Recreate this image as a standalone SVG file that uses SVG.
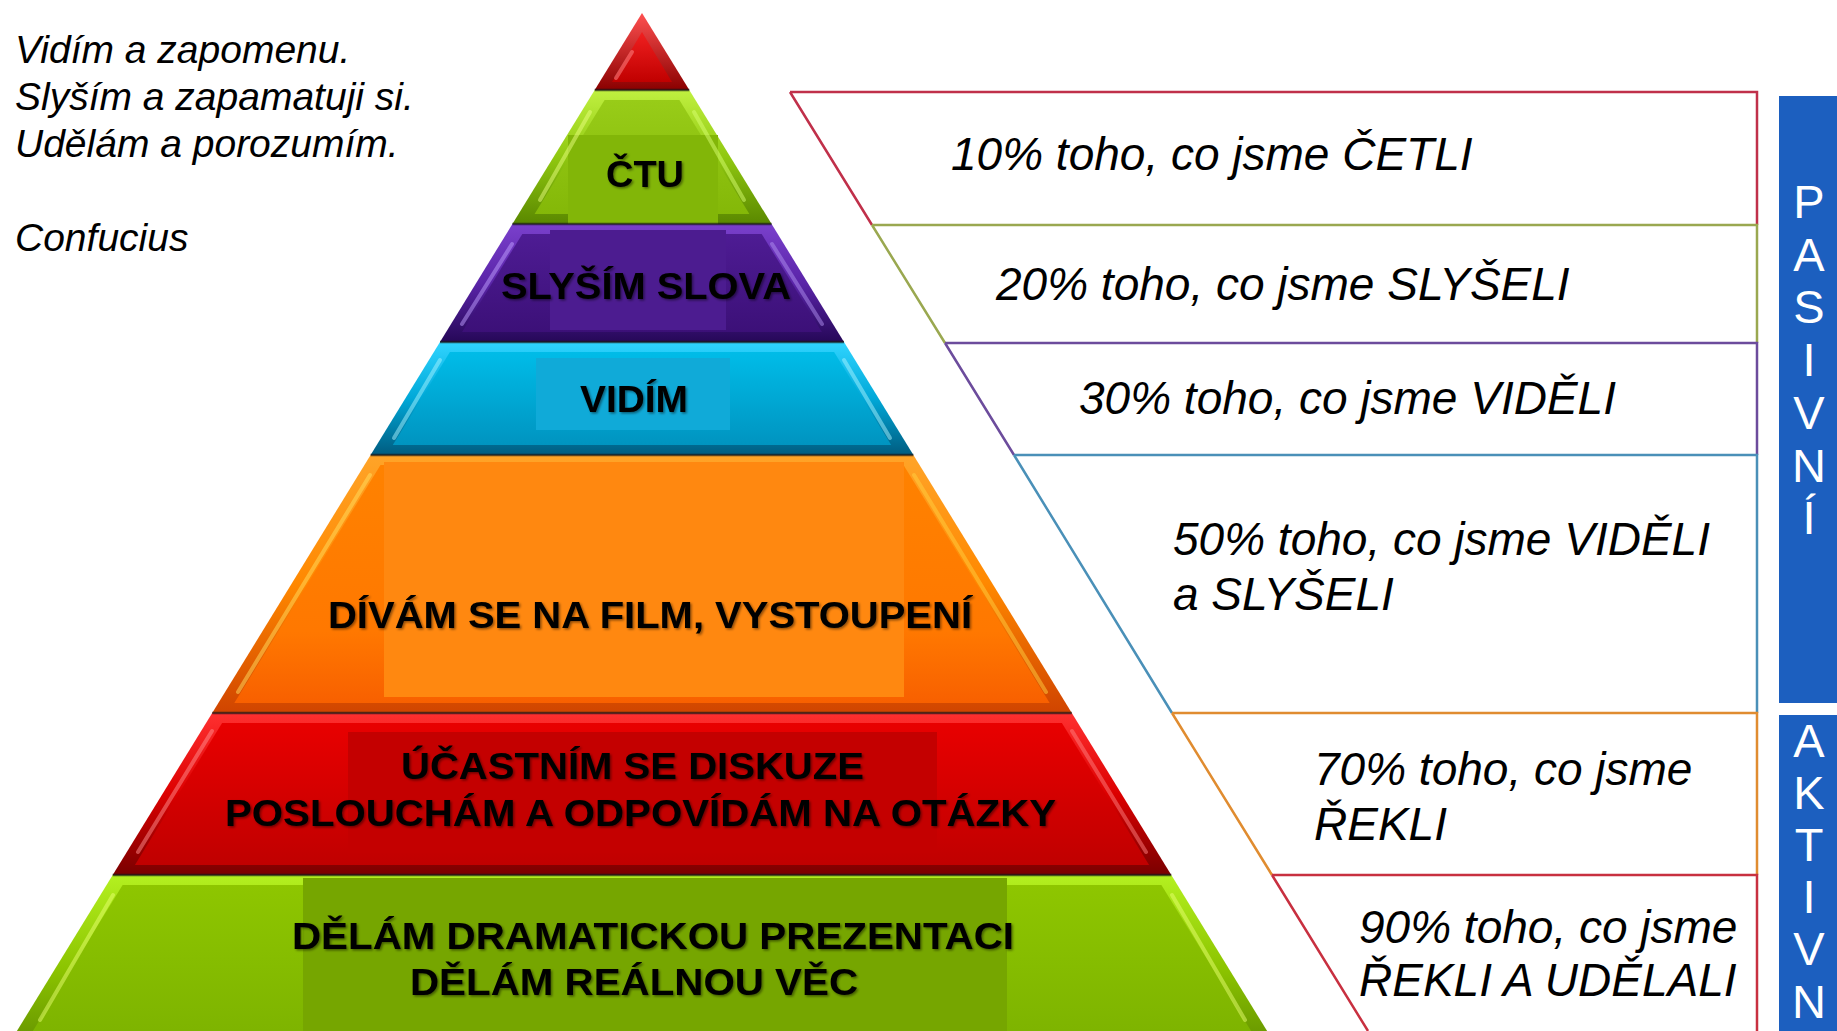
<svg xmlns="http://www.w3.org/2000/svg" width="1837" height="1031" viewBox="0 0 1837 1031">
<defs>
<style>
.quote{font-family:"Liberation Sans",Arial,sans-serif;font-style:italic;font-size:39px;fill:#000}
.lbl{font-family:"Liberation Sans",Arial,sans-serif;font-weight:bold;font-size:37px;fill:#000;filter:url(#tsh)}
.pct{font-family:"Liberation Sans",Arial,sans-serif;font-style:italic;font-size:46px;fill:#000}
.side{font-family:"Liberation Sans",Arial,sans-serif;font-size:47px;fill:#fff;text-anchor:middle}
.hl{fill:none;stroke-width:4;stroke-linecap:round;opacity:.5}
.sep{stroke:#1a1a1a;stroke-width:2.4;opacity:.7}
.row{fill:none;stroke-width:2.5}
.bar{fill:#1c5fbf}
</style>
<filter id="tsh" x="-10%" y="-30%" width="120%" height="160%">
<feDropShadow dx="1.5" dy="1.5" stdDeviation="1.2" flood-color="#000" flood-opacity=".45"/>
</filter>
<linearGradient id="eTip" x1="0" y1="0" x2="0" y2="1"><stop offset="0" stop-color="#ff5050"/><stop offset="1" stop-color="#8a0000"/></linearGradient>
<linearGradient id="fTip" x1="0" y1="0" x2="0" y2="1"><stop offset="0" stop-color="#f02020"/><stop offset="1" stop-color="#c00000"/></linearGradient>
<linearGradient id="e1" x1="0" y1="0" x2="0" y2="1"><stop offset="0" stop-color="#c0f040"/><stop offset=".5" stop-color="#90c810"/><stop offset="1" stop-color="#5a8800"/></linearGradient>
<linearGradient id="f1" x1="0" y1="0" x2="0" y2="1"><stop offset="0" stop-color="#98cc18"/><stop offset="1" stop-color="#84b808"/></linearGradient>
<linearGradient id="e2" x1="0" y1="0" x2="0" y2="1"><stop offset="0" stop-color="#7a40cc"/><stop offset=".5" stop-color="#5a24a8"/><stop offset="1" stop-color="#260858"/></linearGradient>
<linearGradient id="f2" x1="0" y1="0" x2="0" y2="1"><stop offset="0" stop-color="#4e1c94"/><stop offset="1" stop-color="#3c1078"/></linearGradient>
<linearGradient id="e3" x1="0" y1="0" x2="0" y2="1"><stop offset="0" stop-color="#30d4ff"/><stop offset=".5" stop-color="#00a8d8"/><stop offset="1" stop-color="#005c80"/></linearGradient>
<linearGradient id="f3" x1="0" y1="0" x2="0" y2="1"><stop offset="0" stop-color="#00bce8"/><stop offset="1" stop-color="#0094c0"/></linearGradient>
<linearGradient id="e4" x1="0" y1="0" x2="0" y2="1"><stop offset="0" stop-color="#ffa428"/><stop offset=".5" stop-color="#ff8800"/><stop offset="1" stop-color="#d04400"/></linearGradient>
<linearGradient id="f4" x1="0" y1="0" x2="0" y2="1"><stop offset="0" stop-color="#ff8200"/><stop offset=".7" stop-color="#ff7800"/><stop offset="1" stop-color="#f86000"/></linearGradient>
<linearGradient id="e5" x1="0" y1="0" x2="0" y2="1"><stop offset="0" stop-color="#ff3030"/><stop offset=".5" stop-color="#dc0000"/><stop offset="1" stop-color="#7a0000"/></linearGradient>
<linearGradient id="f5" x1="0" y1="0" x2="0" y2="1"><stop offset="0" stop-color="#e80000"/><stop offset="1" stop-color="#c00000"/></linearGradient>
<linearGradient id="e6" x1="0" y1="0" x2="0" y2="1"><stop offset="0" stop-color="#b4f020"/><stop offset=".6" stop-color="#8cc400"/><stop offset="1" stop-color="#6c9c00"/></linearGradient>
<linearGradient id="f6" x1="0" y1="0" x2="0" y2="1"><stop offset="0" stop-color="#8ec600"/><stop offset="1" stop-color="#7eb400"/></linearGradient>
</defs>
<rect width="1837" height="1031" fill="#fff"/>

<g id="quote">
<text class="quote" x="15" y="63">Vidím a zapomenu.</text>
<text class="quote" x="15" y="110">Slyším a zapamatuji si.</text>
<text class="quote" x="15" y="157">Udělám a porozumím.</text>
<text class="quote" x="15" y="251">Confucius</text>
</g>

<g id="pyramid">
<g id="level-tip">
<polygon points="642,13 689.3,90 594.7,90" fill="url(#eTip)"/>
<polygon points="642,32 672,82 612,82" fill="url(#fTip)"/>
<line class="hl" x1="632" y1="52" x2="616" y2="78" stroke="#ff9090"/>
</g>
<g id="level-ctu">
<polygon points="594.7,90 689.3,90 771.6,224 512.4,224" fill="url(#e1)"/>
<polygon points="604.6,100 679.4,100 749.4,214 534.6,214" fill="url(#f1)"/>
<rect x="568" y="135" width="150" height="89" fill="#82b608"/>
<line class="hl" x1="590" y1="112" x2="540" y2="200" stroke="#eaff80"/>
<line class="hl" x1="694" y1="112" x2="744" y2="200" stroke="#d8ff70" opacity=".35"/>
<text class="lbl" x="606" y="187" textLength="78" lengthAdjust="spacingAndGlyphs">ČTU</text>
</g>
<g id="level-slysim">
<polygon points="512.4,224 771.6,224 844,342 440,342" fill="url(#e2)"/>
<polygon points="522.3,234 761.7,234 821.9,332 462.1,332" fill="url(#f2)"/>
<rect x="550" y="230" width="176" height="100" fill="#4c1c90"/>
<line class="hl" x1="512" y1="244" x2="462" y2="324" stroke="#c0a0ff"/>
<line class="hl" x1="772" y1="244" x2="822" y2="324" stroke="#b090f0" opacity=".3"/>
<text class="lbl" x="501" y="299" textLength="290" lengthAdjust="spacingAndGlyphs">SLYŠÍM SLOVA</text>
</g>
<g id="level-vidim">
<polygon points="440,342 844,342 913.4,455 370.6,455" fill="url(#e3)"/>
<polygon points="449.9,352 834.1,352 891.2,445 392.8,445" fill="url(#f3)"/>
<rect x="536" y="358" width="194" height="72" fill="#10aad8"/>
<line class="hl" x1="440" y1="360" x2="394" y2="438" stroke="#a8f4ff"/>
<line class="hl" x1="844" y1="360" x2="890" y2="438" stroke="#a8f4ff" opacity=".35"/>
<text class="lbl" x="580" y="412" textLength="108" lengthAdjust="spacingAndGlyphs">VIDÍM</text>
</g>
<g id="level-divam">
<polygon points="370.6,455 913.4,455 1071.8,713 212.2,713" fill="url(#e4)"/>
<polygon points="380.5,465 903.5,465 1049.7,703 234.3,703" fill="url(#f4)"/>
<rect x="384" y="462" width="520" height="235" fill="#ff8810"/>
<line class="hl" x1="370" y1="475" x2="238" y2="692" stroke="#ffe060"/>
<line class="hl" x1="914" y1="475" x2="1046" y2="692" stroke="#ffd040" opacity=".4"/>
<text class="lbl" x="328" y="628" textLength="644" lengthAdjust="spacingAndGlyphs">DÍVÁM SE NA FILM, VYSTOUPENÍ</text>
</g>
<g id="level-diskuze">
<polygon points="212.2,713 1071.8,713 1171.3,875 112.7,875" fill="url(#e5)"/>
<polygon points="222.1,723 1061.9,723 1149.1,865 134.9,865" fill="url(#f5)"/>
<rect x="348" y="732" width="589" height="121" fill="#c40000"/>
<line class="hl" x1="212" y1="731" x2="138" y2="852" stroke="#ff9090"/>
<line class="hl" x1="1072" y1="731" x2="1146" y2="852" stroke="#ff8080" opacity=".3"/>
<text class="lbl" x="401" y="779" textLength="463" lengthAdjust="spacingAndGlyphs">ÚČASTNÍM SE DISKUZE</text>
<text class="lbl" x="225" y="826" textLength="831" lengthAdjust="spacingAndGlyphs">POSLOUCHÁM A ODPOVÍDÁM NA OTÁZKY</text>
</g>
<g id="level-delam">
<polygon points="112.7,875 1171.3,875 1267.1,1031 16.9,1031" fill="url(#e6)"/>
<polygon points="122.6,885 1161.4,885 1251.1,1031 32.9,1031" fill="url(#f6)"/>
<rect x="303" y="878" width="704" height="153" fill="#76a600"/>
<line class="hl" x1="113" y1="895" x2="40" y2="1020" stroke="#e8ff70"/>
<line class="hl" x1="1172" y1="895" x2="1245" y2="1020" stroke="#e8ff70" opacity=".5"/>
<text class="lbl" x="292" y="949" textLength="722" lengthAdjust="spacingAndGlyphs">DĚLÁM DRAMATICKOU PREZENTACI</text>
<text class="lbl" x="410" y="995" textLength="448" lengthAdjust="spacingAndGlyphs">DĚLÁM REÁLNOU VĚC</text>
</g>
<g id="separators">
<line class="sep" x1="594.7" y1="90" x2="689.3" y2="90"/>
<line class="sep" x1="512.4" y1="224" x2="771.6" y2="224"/>
<line class="sep" x1="440" y1="342" x2="844" y2="342"/>
<line class="sep" x1="370.6" y1="455" x2="913.4" y2="455"/>
<line class="sep" x1="212.2" y1="713" x2="1071.8" y2="713"/>
<line class="sep" x1="112.7" y1="875" x2="1171.3" y2="875"/>
</g>
</g>

<g id="connectors">
<path class="row" stroke="#c0304a" d="M790,92 H1757 V225 M790,92 L872,225"/>
<path class="row" stroke="#9aa850" d="M872,225 H1757 V343 M872,225 L945,343"/>
<path class="row" stroke="#6c4c9c" d="M945,343 H1757 V455 M945,343 L1014,455"/>
<path class="row" stroke="#4a90b8" d="M1014,455 H1757 V713 M1014,455 L1172,713"/>
<path class="row" stroke="#e08c30" d="M1172,713 H1757 V875 M1172,713 L1272,875"/>
<path class="row" stroke="#c83040" d="M1272,875 H1757 V1031 M1272,875 L1368,1031"/>
</g>

<g id="row-10"><text class="pct" x="951" y="170">10% toho, co jsme ČETLI</text></g>
<g id="row-20"><text class="pct" x="996" y="300">20% toho, co jsme SLYŠELI</text></g>
<g id="row-30"><text class="pct" x="1079" y="414">30% toho, co jsme VIDĚLI</text></g>
<g id="row-50"><text class="pct" x="1173" y="555">50% toho, co jsme VIDĚLI</text><text class="pct" x="1173" y="610">a SLYŠELI</text></g>
<g id="row-70"><text class="pct" x="1314" y="785">70% toho, co jsme</text><text class="pct" x="1314" y="840">ŘEKLI</text></g>
<g id="row-90"><text class="pct" x="1359" y="943">90% toho, co jsme</text><text class="pct" x="1359" y="996">ŘEKLI A UDĚLALI</text></g>

<g id="bar-pasivni">
<rect class="bar" x="1779" y="96" width="58" height="607"/>
<text class="side" x="1809" y="218">P<tspan x="1809" y="271">A</tspan><tspan x="1809" y="323">S</tspan><tspan x="1809" y="376">I</tspan><tspan x="1809" y="429">V</tspan><tspan x="1809" y="482">N</tspan><tspan x="1809" y="534">Í</tspan></text>
</g>
<g id="bar-aktivni">
<rect class="bar" x="1779" y="715" width="58" height="316"/>
<text class="side" x="1809" y="757">A<tspan x="1809" y="809">K</tspan><tspan x="1809" y="861">T</tspan><tspan x="1809" y="913">I</tspan><tspan x="1809" y="965">V</tspan><tspan x="1809" y="1018">N</tspan></text>
</g>
</svg>
